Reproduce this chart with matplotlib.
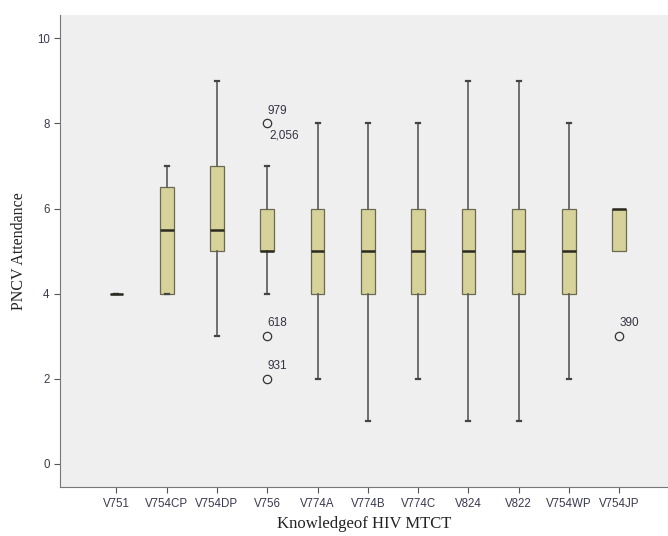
import numpy as np
import matplotlib.pyplot as plt

# categories and box statistics
groups = ['V751', 'V754CP', 'V754DP', 'V756', 'V774A', 'V774B', 'V774C',
          'V824', 'V822', 'V754WP', 'V754JP']
q1 = [4, 4, 5, 5, 4, 4, 4, 4, 4, 4, 5]
med = [4, 5.5, 5.5, 5, 5, 5, 5, 5, 5, 5, 6]
q3 = [4, 6.5, 7, 6, 6, 6, 6, 6, 6, 6, 6]
whislo = [4, 4, 3, 4, 2, 1, 2, 1, 1, 2, 5]
whishi = [4, 7, 9, 7, 8, 8, 8, 9, 9, 8, 6]
outliers = [[], [], [], [8, 3, 2], [], [], [], [], [], [], [3]]

# outlier case labels: (group index, value, text)
case_labels = [(3, 8, '979'), (3, 8, '2,056'), (3, 3, '618'), (3, 2, '931'),
               (10, 3, '390')]

stats = []
for i, g in enumerate(groups):
    stats.append({'label': g, 'q1': q1[i], 'med': med[i], 'q3': q3[i],
                  'whislo': whislo[i], 'whishi': whishi[i], 'fliers': outliers[i]})

fig = plt.figure(figsize=(6.68, 5.36), dpi=100)
ax = fig.add_axes([0.09, 0.091, 0.91, 0.881])
ax.set_facecolor('#efefef')

# no whisker caps on the last group (whiskers fall on the box)
caps = [0.08] * 10 + [0.0]
ax.bxp(stats, positions=np.arange(len(groups)), widths=0.27, patch_artist=True,
       showfliers=True,
       boxprops=dict(facecolor='#d6d29a', edgecolor='#6b6a50', linewidth=0.9),
       medianprops=dict(color='#2a2a20', linewidth=1.8),
       whiskerprops=dict(color='#5a5a5a', linewidth=1.2),
       capprops=dict(color='#444444', linewidth=1.6),
       capwidths=caps,
       flierprops=dict(marker='o', markersize=6, markerfacecolor='none',
                       markeredgecolor='#333333', markeredgewidth=0.9))

for gi, val, txt in case_labels:
    if txt == '2,056':
        ax.text(gi + 0.05, val - 0.28, txt, fontsize=8.5, color='#333344',
                family='Liberation Sans', ha='left', va='center')
    else:
        ax.text(gi, val + 0.3, txt, fontsize=8.5, color='#333344',
                family='Liberation Sans', ha='left', va='center')

ax.set_xlim(-1.12, 10.97)
ax.set_ylim(-0.55, 10.55)
ax.set_yticks([0, 2, 4, 6, 8, 10])
ax.set_xticks(np.arange(len(groups)))
ax.set_xticklabels(groups)
ax.tick_params(axis='both', labelsize=8.3, colors='#555555', labelcolor='#3a3a50',
               length=4)
for lab in ax.get_xticklabels() + ax.get_yticklabels():
    lab.set_family('Liberation Sans')
for s in ['top', 'right']:
    ax.spines[s].set_visible(False)
for s in ['left', 'bottom']:
    ax.spines[s].set_color('#777777')

ax.set_ylabel('PNCV Attendance', family='Liberation Serif', fontsize=11.5,
              color='#222222', labelpad=7)
ax.set_xlabel('Knowledgeof HIV MTCT', family='Liberation Serif', fontsize=12,
              color='#222222', labelpad=4.5)

plt.savefig('out.png', dpi=100)
